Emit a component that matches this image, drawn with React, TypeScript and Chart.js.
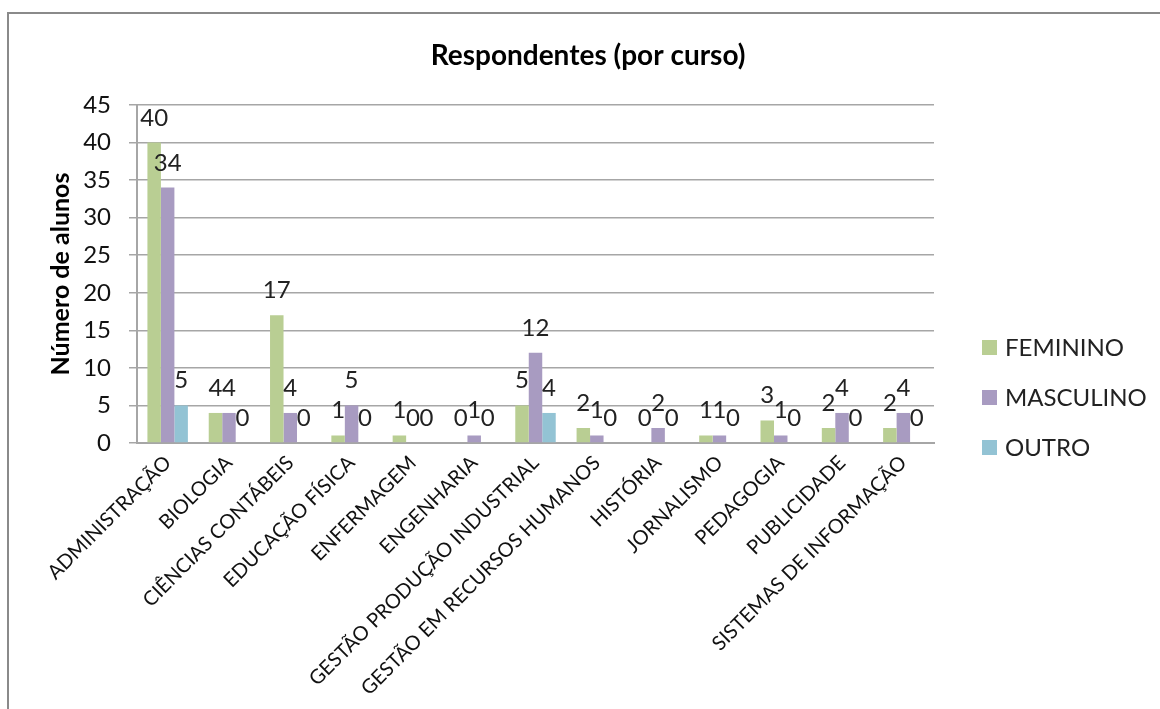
import React, { useEffect, useRef } from 'react';
import { Chart, registerables } from 'chart.js';

Chart.register(...registerables);

const categories = [
  'ADMINISTRAÇÃO',
  'BIOLOGIA',
  'CIÊNCIAS CONTÁBEIS',
  'EDUCAÇÃO FÍSICA',
  'ENFERMAGEM',
  'ENGENHARIA',
  'GESTÃO PRODUÇÃO INDUSTRIAL',
  'GESTÃO EM RECURSOS HUMANOS',
  'HISTÓRIA',
  'JORNALISMO',
  'PEDAGOGIA',
  'PUBLICIDADE',
  'SISTEMAS DE INFORMAÇÃO',
];
const feminino = [40, 4, 17, 1, 1, 0, 5, 2, 0, 1, 3, 2, 2];
const masculino = [34, 4, 4, 5, 0, 1, 12, 1, 2, 1, 1, 4, 4];
const outro = [5, 0, 0, 0, 0, 0, 4, 0, 0, 0, 0, 0, 0];
const seriesNames = ['FEMININO', 'MASCULINO', 'OUTRO'];
const seriesColors = ['#B9CE93', '#A89BC1', '#93C3D4'];
const yMin = 0;
const yMax = 45;
const yStep = 5;
const chartTitle = 'Respondentes (por curso)';
const yTitle = 'Número de alunos';

const FONT = 'Lato, "Open Sans", sans-serif';

const framePlugin = {
  id: 'frame',
  beforeDraw(chart: any) {
    const { ctx, width, height } = chart;
    ctx.save();
    ctx.fillStyle = '#ffffff';
    ctx.fillRect(0, 0, width, height);
    ctx.strokeStyle = '#8a8a8a';
    ctx.lineWidth = 2;
    ctx.strokeRect(8, 13, width + 50, height + 50);
    ctx.restore();
  },
};

const titlePlugin = {
  id: 'customTitle',
  afterDraw(chart: any) {
    const { ctx } = chart;
    ctx.save();
    ctx.font = `bold 28px ${FONT}`;
    ctx.fillStyle = '#000';
    ctx.textAlign = 'center';
    ctx.textBaseline = 'middle';
    ctx.fillText(chartTitle, 588, 56);
    ctx.restore();
  },
};

const dataLabelPlugin = {
  id: 'dataLabels',
  afterDatasetsDraw(chart: any) {
    const { ctx } = chart;
    ctx.save();
    ctx.font = `24px ${FONT}`;
    ctx.fillStyle = '#222';
    ctx.textAlign = 'center';
    ctx.textBaseline = 'alphabetic';
    chart.data.datasets.forEach((ds: any, di: number) => {
      const meta = chart.getDatasetMeta(di);
      meta.data.forEach((bar: any, i: number) => {
        ctx.fillText(String(ds.data[i]), bar.x, bar.y - 17);
      });
    });
    ctx.restore();
  },
};

const legendPlugin = {
  id: 'customLegend',
  afterDraw(chart: any) {
    const { ctx } = chart;
    const area = chart.chartArea;
    ctx.save();
    ctx.font = `24px ${FONT}`;
    ctx.textAlign = 'left';
    ctx.textBaseline = 'middle';
    const x = area.right + 48;
    const top = area.bottom - 96;
    chart.data.datasets.forEach((ds: any, i: number) => {
      const y = top + i * 50;
      ctx.fillStyle = ds.backgroundColor;
      ctx.fillRect(x, y - 7, 15, 15);
      ctx.fillStyle = '#222';
      ctx.fillText(ds.label, x + 23, y + 1);
    });
    ctx.restore();
  },
};

export default function App() {
  const ref = useRef<HTMLCanvasElement | null>(null);

  useEffect(() => {
    if (!ref.current) return;
    const chart = new Chart(ref.current, {
      type: 'bar',
      data: {
        labels: categories,
        datasets: [
          { label: seriesNames[0], data: feminino, backgroundColor: seriesColors[0] },
          { label: seriesNames[1], data: masculino, backgroundColor: seriesColors[1] },
          { label: seriesNames[2], data: outro, backgroundColor: seriesColors[2] },
        ].map((d) => ({ ...d, borderWidth: 0, categoryPercentage: 0.66, barPercentage: 1 })),
      },
      options: {
        responsive: false,
        animation: false,
        devicePixelRatio: 1,
        layout: { padding: { top: 105, right: 226, bottom: 16, left: 0 } },
        plugins: {
          legend: { display: false },
          title: { display: false },
          tooltip: { enabled: false },
        },
        scales: {
          x: {
            grid: { display: false, drawTicks: false },
            border: { display: true, color: '#a6a6a6', width: 2 },
            ticks: {
              autoSkip: false,
              minRotation: 45,
              maxRotation: 45,
              padding: 8,
              color: '#111',
              font: { family: FONT, size: 20 },
            },
            afterFit(scale: any) {
              scale.height = 250;
            },
          },
          y: {
            min: yMin,
            max: yMax,
            ticks: {
              stepSize: yStep,
              padding: 18,
              color: '#111',
              font: { family: FONT, size: 24 },
            },
            grid: { color: '#a6a6a6', lineWidth: 1.5, tickLength: 8 },
            border: { display: true, color: '#a6a6a6', width: 2 },
            title: {
              display: true,
              text: yTitle,
              color: '#000',
              font: { family: FONT, size: 25, weight: 'bold' },
              padding: { top: 46, bottom: 0 },
            },
            afterFit(scale: any) {
              scale.width = 137;
            },
          },
        },
      },
      plugins: [framePlugin, dataLabelPlugin, titlePlugin, legendPlugin],
    } as any);
    return () => chart.destroy();
  }, []);

  return (
    <div style={{ position: 'absolute', left: 0, top: 0, width: 1160, height: 709, background: '#fff' }}>
      <canvas ref={ref} width={1160} height={709} style={{ display: 'block' }} />
    </div>
  );
}
